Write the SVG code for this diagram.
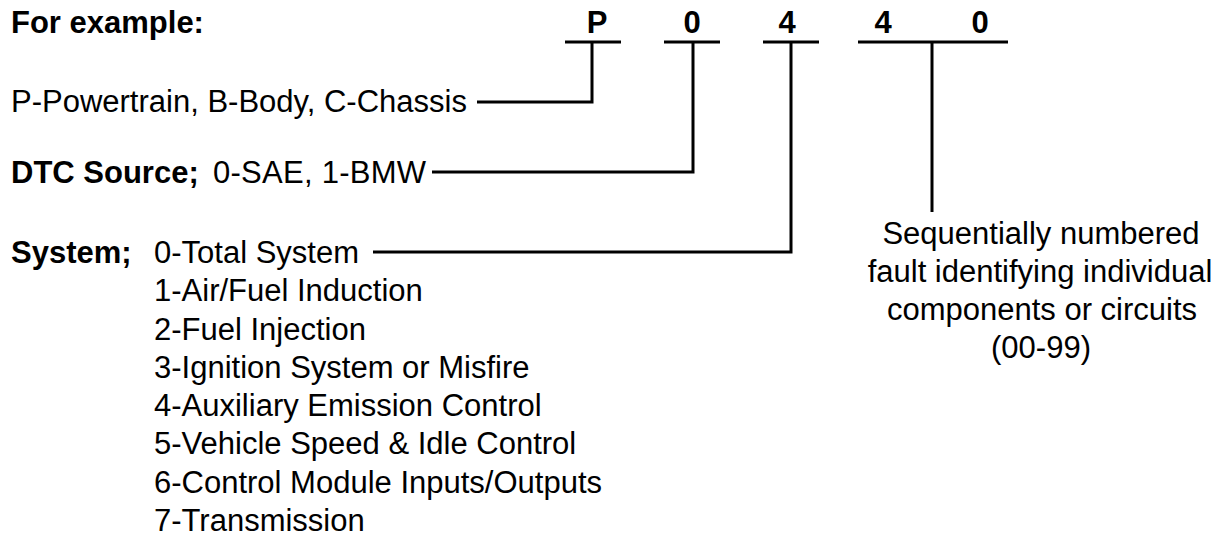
<svg xmlns="http://www.w3.org/2000/svg" width="1217" height="539" viewBox="0 0 1217 539">
<style>
  text { font-family: "Liberation Sans", Arial, Helvetica, sans-serif; font-size: 31px; fill: #000; }
  .b { font-weight: bold; }
  .r { font-weight: normal; }
  .c { text-anchor: middle; }
  .ln { stroke: #000; stroke-width: 3; fill: none; stroke-linecap: butt; stroke-linejoin: miter; }
</style>
<rect x="0" y="0" width="1217" height="539" fill="#fff"/>
<g id="title"><text x="11" y="33" class="b">For example:</text></g>
<g id="digit-P"><text x="597" y="33" class="b c">P</text></g>
<g id="digit-0a"><text x="692" y="33" class="b c">0</text></g>
<g id="digit-4a"><text x="787" y="33" class="b c">4</text></g>
<g id="digit-4b"><text x="883" y="33" class="b c">4</text></g>
<g id="digit-0b"><text x="980" y="33" class="b c">0</text></g>
<g id="label-type"><text x="11" y="112" class="r">P-Powertrain, B-Body, C-Chassis</text></g>
<g id="label-source"><text x="11" y="183"><tspan class="b">DTC Source;</tspan><tspan class="r" x="213" textLength="213">0-SAE, 1-BMW</tspan></text></g>
<g id="label-system">
  <text x="11" y="263" class="b">System;</text>
  <text x="154" y="263" class="r">0-Total System</text>
  <text x="154" y="301" class="r">1-Air/Fuel Induction</text>
  <text x="154" y="340" class="r">2-Fuel Injection</text>
  <text x="154" y="378" class="r">3-Ignition System or Misfire</text>
  <text x="154" y="416" class="r">4-Auxiliary Emission Control</text>
  <text x="154" y="454" class="r">5-Vehicle Speed &amp; Idle Control</text>
  <text x="154" y="493" class="r">6-Control Module Inputs/Outputs</text>
  <text x="154" y="531" class="r">7-Transmission</text>
</g>
<g id="label-fault">
  <text x="1041" y="244" class="r c">Sequentially numbered</text>
  <text x="1040" y="282" class="r c">fault identifying individual</text>
  <text x="1042" y="320" class="r c">components or circuits</text>
  <text x="1041" y="358" class="r c">(00-99)</text>
</g>
<g id="connectors">
  <line class="ln" x1="565" y1="42" x2="621" y2="42"/>
  <line class="ln" x1="664" y1="42" x2="720" y2="42"/>
  <line class="ln" x1="763" y1="42" x2="819" y2="42"/>
  <line class="ln" x1="858" y1="42" x2="1008" y2="42"/>
  <polyline class="ln" points="477,102 592,102 592,42"/>
  <polyline class="ln" points="432,172 693,172 693,42"/>
  <polyline class="ln" points="373,252 791,252 791,42"/>
  <line class="ln" x1="932" y1="42" x2="932" y2="212"/>
</g>
</svg>
